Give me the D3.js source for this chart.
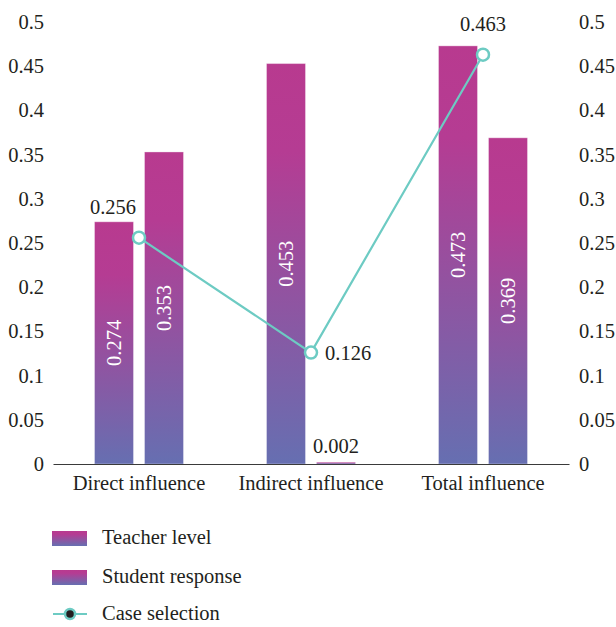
<!DOCTYPE html>
<html>
<head>
<meta charset="utf-8">
<script src="https://cdn.jsdelivr.net/npm/d3@7"></script>
<style>
  html, body { margin: 0; padding: 0; background: #fff; }
  svg { display: block; }
  svg text { font-family: "Liberation Serif", "DejaVu Serif", serif !important; }
</style>
</head>
<body>
<svg id="chart" width="616" height="627"></svg>
<script>
const categories = ["Direct influence", "Indirect influence", "Total influence"];
const seriesNames = ["Teacher level", "Student response"];
const teacherLevel = [0.274, 0.453, 0.473];
const studentResponse = [0.353, 0.002, 0.369];
const caseSelection = [0.256, 0.126, 0.463];
const yTicks = [0, 0.05, 0.1, 0.15, 0.2, 0.25, 0.3, 0.35, 0.4, 0.45, 0.5];
const lineName = "Case selection";

const svg = d3.select("#chart");
const defs = svg.append("defs");
const grad = defs.append("linearGradient").attr("id", "barGrad")
  .attr("x1", 0).attr("y1", 0).attr("x2", 0).attr("y2", 1);
grad.append("stop").attr("offset", "0%").attr("stop-color", "#B83A8F");
grad.append("stop").attr("offset", "22%").attr("stop-color", "#B53C93");
grad.append("stop").attr("offset", "100%").attr("stop-color", "#666FB1");

const x0 = d3.scaleBand().domain(categories).range([53, 569]).padding(0);
const x1 = d3.scaleBand().domain(seriesNames).range([0, x0.bandwidth()])
  .paddingInner(0.22).paddingOuter(0.83);
const y = d3.scaleLinear().domain([0, 0.5]).range([464, 22]);

const fontSize = 20.5;
const textColor = "#231f20";

const fmt = d => String(+d.toFixed(2));

// left axis labels
svg.append("g").attr("transform", "translate(53,0)")
  .call(d3.axisLeft(y).tickValues(yTicks).tickSize(0).tickPadding(9).tickFormat(fmt))
  .call(g => g.select(".domain").remove())
  .call(g => g.attr("font-size", null).attr("font-family", null))
  .selectAll("text").attr("font-size", fontSize).attr("fill", textColor);

svg.append("g").attr("transform", "translate(569,0)")
  .call(d3.axisRight(y).tickValues(yTicks).tickSize(0).tickPadding(10).tickFormat(fmt))
  .call(g => g.select(".domain").remove())
  .call(g => g.attr("font-size", null).attr("font-family", null))
  .selectAll("text").attr("font-size", fontSize).attr("fill", textColor);

// bars
const data = categories.map((c, i) => ({
  cat: c,
  vals: [
    { s: seriesNames[0], v: teacherLevel[i] },
    { s: seriesNames[1], v: studentResponse[i] }
  ]
}));

const groups = svg.append("g").selectAll("g").data(data).join("g")
  .attr("transform", d => `translate(${x0(d.cat)},0)`);

groups.selectAll("rect").data(d => d.vals).join("rect")
  .attr("x", d => x1(d.s))
  .attr("width", x1.bandwidth())
  .attr("y", d => y(d.v))
  .attr("height", d => y(0) - y(d.v))
  .attr("fill", "url(#barGrad)")
  .attr("stroke", "rgba(255,255,255,0.35)")
  .attr("stroke-width", 1);

// value labels
groups.selectAll("text.val").data(d => d.vals).join("text")
  .attr("class", "val")
  .each(function(d) {
    const cx = x1(d.s) + x1.bandwidth() / 2;
    const t = d3.select(this);
    if (d.v < 0.05) {
      t.attr("x", cx).attr("y", y(d.v) - 9).attr("text-anchor", "middle")
        .attr("fill", textColor);
    } else {
      const cy = (y(d.v) + y(0)) / 2;
      t.attr("transform", `translate(${cx},${cy}) rotate(-90)`)
        .attr("text-anchor", "middle").attr("dy", "0.35em").attr("fill", "#ffffff");
    }
  })
  .attr("font-size", fontSize)
  .text(d => d.v.toFixed(3));

// x axis
svg.append("g").attr("transform", "translate(0,464)")
  .call(d3.axisBottom(x0).tickSize(0).tickPadding(11))
  .call(g => g.attr("font-size", null).attr("font-family", null))
  .call(g => g.select(".domain").attr("stroke", "#3a3a3a").attr("stroke-width", 1.2))
  .selectAll("text").attr("font-size", fontSize).attr("fill", textColor);

// line
const lineColor = "#6DCBC3";
const pts = categories.map((c, i) => ({ x: x0(c) + x0.bandwidth() / 2, v: caseSelection[i] }));
svg.append("path").datum(pts)
  .attr("d", d3.line().x(d => d.x).y(d => y(d.v)))
  .attr("fill", "none").attr("stroke", lineColor).attr("stroke-width", 2.2);
svg.append("g").selectAll("circle").data(pts).join("circle")
  .attr("cx", d => d.x).attr("cy", d => y(d.v)).attr("r", 6)
  .attr("fill", "#fff").attr("stroke", lineColor).attr("stroke-width", 2.5);

const labelOffsets = [
  { dx: -26, dy: -24, anchor: "middle" },
  { dx: 14, dy: 7, anchor: "start" },
  { dx: 0, dy: -24, anchor: "middle" }
];
svg.append("g").selectAll("text").data(pts).join("text")
  .attr("x", (d, i) => d.x + labelOffsets[i].dx)
  .attr("y", (d, i) => y(d.v) + labelOffsets[i].dy)
  .attr("text-anchor", (d, i) => labelOffsets[i].anchor)
  .attr("font-size", fontSize).attr("fill", textColor)
  .text(d => d.v.toFixed(3));

// legend
const legend = svg.append("g");
seriesNames.forEach((s, i) => {
  const yy = 531 + i * 39;
  legend.append("rect").attr("x", 52).attr("y", yy).attr("width", 35).attr("height", 15)
    .attr("fill", "url(#barGrad)");
  legend.append("text").attr("x", 102).attr("y", yy + 13).attr("font-size", fontSize)
    .attr("fill", textColor).text(s);
});
const ly = 614;
legend.append("line").attr("x1", 53).attr("x2", 87).attr("y1", ly).attr("y2", ly)
  .attr("stroke", lineColor).attr("stroke-width", 2.2);
legend.append("circle").attr("cx", 70).attr("cy", ly).attr("r", 5)
  .attr("fill", textColor).attr("stroke", lineColor).attr("stroke-width", 2.5);
legend.append("text").attr("x", 102).attr("y", ly + 6).attr("font-size", fontSize)
  .attr("fill", textColor).text(lineName);
</script>
</body>
</html>
